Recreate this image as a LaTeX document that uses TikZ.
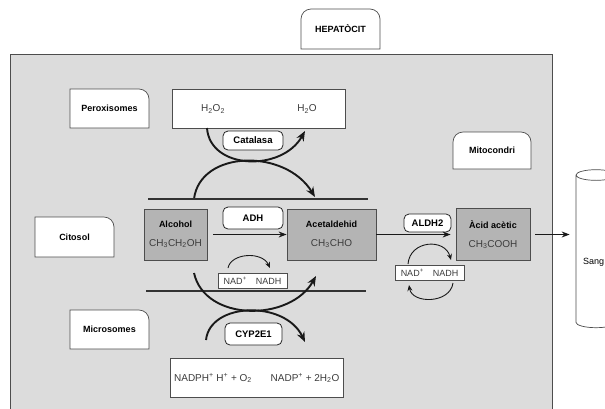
\documentclass[tikz,border=0pt]{standalone}
\usepackage{fontspec}
\setmainfont{Liberation Sans}
\usetikzlibrary{positioning,shapes.geometric,arrows.meta}
\definecolor{cellgray}{HTML}{DCDCDC}
\definecolor{boxgray}{HTML}{B4B4B4}
\definecolor{edgegray}{HTML}{4D4D4D}
\definecolor{chemgray}{HTML}{3C3C3C}
\newcommand{\chemfont}{\mdseries\fontsize{10}{12}\selectfont\color{chemgray}}
% tab label, only the top right corner rounded
\newcommand{\tabnode}[6]{%
  \draw[tab] (#2,#5) -- (#2,#3) -- ({#4-10},#3)
    arc[start angle=90,end angle=0,radius=10pt] -- (#4,#5) -- cycle;
  \node[tablabel] (#1) at ({(#2+#4)/2},{(#3+#5)/2}) {#6};}
% tab label, both top corners rounded
\newcommand{\capnode}[6]{%
  \draw[tab] (#2,#5) -- (#2,{#3+10})
    arc[start angle=180,end angle=90,radius=10pt] -- ({#4-10},#3)
    arc[start angle=90,end angle=0,radius=10pt] -- (#4,#5) -- cycle;
  \node[tablabel] (#1) at ({(#2+#4)/2},{(#3+#5)/2}) {#6};}

\begin{document}
\begin{tikzpicture}[x=1pt,y=-1pt,
    cell/.style={fill=cellgray, draw=edgegray, line width=0.8pt},
    tab/.style={fill=white, draw=edgegray, line width=0.7pt},
    tablabel/.style={font=\bfseries\fontsize{9}{11}\selectfont, inner sep=0pt},
    membox/.style={rectangle, fill=white, draw=edgegray, line width=0.8pt, inner sep=0pt},
    subst/.style={rectangle, fill=boxgray, draw=edgegray, line width=0.8pt,
      align=center, inner sep=0pt, font=\bfseries\fontsize{9}{11}\selectfont},
    enz/.style={rectangle, rounded corners=5pt, fill=white, draw=black!85,
      line width=0.8pt, inner sep=0pt, font=\bfseries\fontsize{9.5}{11}\selectfont},
    cofac/.style={rectangle, fill=white, draw=edgegray, line width=0.7pt,
      inner sep=0pt, font=\fontsize{9}{11}\selectfont, text=chemgray},
    chem/.style={font=\chemfont, inner sep=0pt},
    membrane/.style={line width=1.6pt, black!80},
    curve/.style={line width=1.9pt, black!90, -{Stealth[length=10pt,width=8pt]}},
    flow/.style={line width=1.1pt, black!90, -{Stealth[length=8pt,width=6pt]}},
    cyc/.style={line width=0.9pt, black!90, -{Stealth[length=6pt,width=5pt]}},
  ]
  \clip (0,0) rectangle (605,408);
  \draw[cell] (10,54) rectangle (552,420);

  % labels
  \capnode{hepat}{301}{9}{380}{49}{HEPATÒCIT}
  \tabnode{perox}{70}{89}{149}{128}{Peroxisomes}
  \tabnode{citosol}{35}{217}{114}{257}{Citosol}
  \tabnode{micro}{70}{310}{149}{349}{Microsomes}
  \capnode{mito}{453}{132}{531}{169}{Mitocondri}

  % peroxisome
  \node[membox, minimum width=173pt, minimum height=39pt] (perbox) at (258.5,108.5) {};
  \node[chem] (h2o2) at (213,109) {H\textsubscript{2}O\textsubscript{2}};
  \node[chem] (h2o) at (307,109) {H\textsubscript{2}O};
  \coordinate (cat-in) at (207,128);
  \coordinate (cat-out) at (305,131);
  \draw[curve] (cat-in) .. controls (210,170) and (282,172) .. (cat-out);
  \coordinate (ox-in) at (194,199);
  \coordinate (ox-out) at (315,197);
  \draw[curve] (ox-in) .. controls (200,150) and (285,148) .. (ox-out);
  \node[enz, minimum width=60pt, minimum height=19pt] (catalasa) at (253,140.5) {Catalasa};

  \draw[membrane] (148,199) -- (368,199);
  \draw[membrane] (146,291) -- (366,291);

  % cytosol
  \node[subst, minimum width=63pt, minimum height=51pt] (alcohol) at (175.5,234.5)
    {Alcohol\\[8pt]{\chemfont CH\textsubscript{3}CH\textsubscript{2}OH}};
  \node[subst, minimum width=89pt, minimum height=51pt] (acetal) at (331.5,234.5)
    {Acetaldehid\\[8pt]{\chemfont CH\textsubscript{3}CHO}};
  \node[subst, minimum width=74pt, minimum height=52pt] (acid) at (493,234.5)
    {Àcid acètic\\[8pt]{\chemfont CH\textsubscript{3}COOH}};
  \node[enz, minimum width=60pt, minimum height=22pt] (adh) at (253,218) {ADH};
  \node[enz, minimum width=47pt, minimum height=18pt] (aldh) at (427.5,223) {ALDH2};
  \draw[flow, shorten <=6pt] (alcohol) -- (acetal);
  \draw[flow, shorten >=5pt] (acetal.east) -- (acetal.east -| acid.west);

  \node[cofac, minimum width=69pt, minimum height=15pt] (nadmid) at (252.5,280.5)
    {NAD\textsuperscript{+}\hspace{9pt}NADH};
  \coordinate (nm-in) at (228,268);
  \coordinate (nm-out) at (270,268);
  \draw[cyc] (nm-in) .. controls (231,253) and (262,251) .. (nm-out);

  \node[cofac, minimum width=69pt, minimum height=15pt] (nadright) at (429.5,272.5)
    {NAD\textsuperscript{+}\hspace{9pt}NADH};
  \coordinate (nr-a) at (408,264);
  \coordinate (nr-b) at (451,260);
  \coordinate (nr-c) at (453,283);
  \coordinate (nr-d) at (409,285);
  \draw[cyc] (nr-a) .. controls (410,240) and (445,238) .. (nr-b);
  \draw[cyc] (nr-c) .. controls (450,304) and (412,304) .. (nr-d);

  % microsomes
  \coordinate (eth-in) at (194,273);
  \coordinate (eth-out) at (316,276);
  \draw[curve] (eth-in) .. controls (205,322) and (290,322) .. (eth-out);
  \coordinate (nadph-in) at (206,340);
  \coordinate (nadph-out) at (305,342);
  \draw[curve] (nadph-in) .. controls (210,302) and (285,300) .. (nadph-out);
  \node[enz, minimum width=57pt, minimum height=22pt] (cyp) at (253.5,334) {CYP2E1};
  \node[membox, minimum width=173pt, minimum height=39pt] (micbox) at (256.5,377.5) {};
  \node[chem] (nadph) at (213,378) {NADPH\textsuperscript{+} H\textsuperscript{+} + O\textsubscript{2}};
  \node[chem] (nadp) at (305,378) {NADP\textsuperscript{+} + 2H\textsubscript{2}O};

  % blood
  \node[cylinder, shape border rotate=90, aspect=1.6, draw=edgegray, fill=white,
    line width=0.7pt, minimum width=40pt, minimum height=158pt] (sang) at (596,253) {};
  \node[anchor=west, inner sep=0pt, font=\fontsize{9}{11}\selectfont] (sanglbl) at (583,262) {Sang};
  \draw[flow, shorten <=5pt, shorten >=6pt] (acid.east) -- (acid.east -| sang.west);
\end{tikzpicture}
\end{document}
